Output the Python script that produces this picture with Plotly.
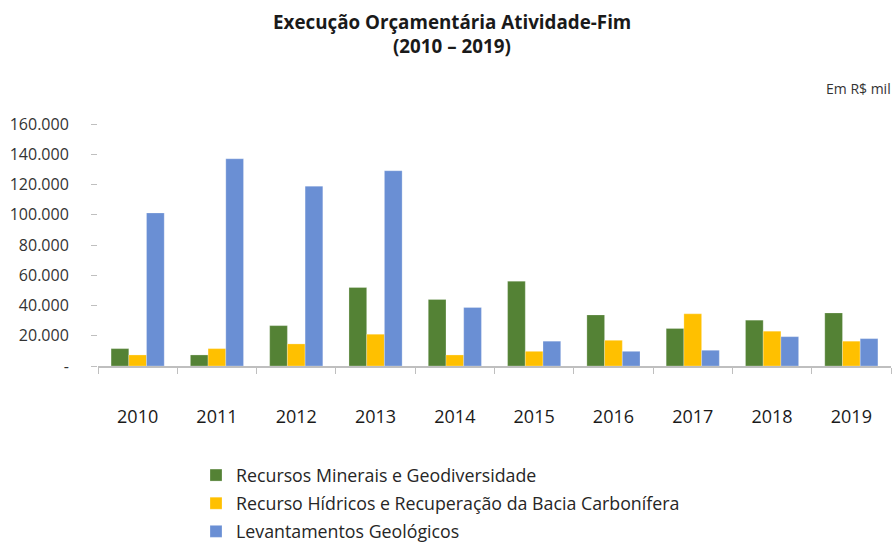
import plotly.graph_objects as go

years = ["2010", "2011", "2012", "2013", "2014", "2015", "2016", "2017", "2018", "2019"]
recursos_minerais = [11500, 7300, 26700, 51900, 44000, 56100, 33800, 24800, 30300, 35100]
recursos_hidricos = [7300, 11500, 14600, 21000, 7300, 9700, 17000, 34500, 23000, 16400]
levantamentos = [101200, 137000, 118900, 129100, 38700, 16400, 9700, 10400, 19400, 18100]

series_names = [
    "Recursos Minerais e Geodiversidade",
    "Recurso Hídricos e Recuperação da Bacia Carbonífera",
    "Levantamentos Geológicos",
]
colors = ["#548235", "#FFC000", "#6A8FD4"]

y_tickvals = [0, 20000, 40000, 60000, 80000, 100000, 120000, 140000, 160000]
y_ticktext = ["-", "20.000", "40.000", "60.000", "80.000", "100.000", "120.000", "140.000", "160.000"]

title_lines = ["Execução Orçamentária Atividade-Fim", "(2010 – 2019)"]
unit_note = "Em R$ mil"

FONT = "Open Sans"
W, H = 895, 543
ML, MR, MT, MB = 98, 4, 124, 177
PH = H - MT - MB
PW = W - ML - MR

def py(pix):
    return (H - MB - pix) / PH

def px(pix):
    return (pix - ML) / PW

fig = go.Figure()
for i, (name, vals, col) in enumerate(zip(series_names, [recursos_minerais, recursos_hidricos, levantamentos], colors)):
    fig.add_trace(go.Bar(
        x=years, y=vals, name=name, legendgroup=f"g{i}",
        marker=dict(color=col, line=dict(color="rgba(255,255,255,0.5)", width=0.5)),
    ))

annotations = [
    dict(text=f"<b>{title_lines[0]}</b>", xref="paper", yref="paper",
         x=px(452), xanchor="center", y=py(22), yanchor="middle",
         showarrow=False, font=dict(size=18.8, color="#1a1a1a")),
    dict(text=f"<b>{title_lines[1]}</b>", xref="paper", yref="paper",
         x=px(452), xanchor="center", y=py(46), yanchor="middle",
         showarrow=False, font=dict(size=18.8, color="#1a1a1a")),
    dict(text=unit_note, xref="paper", yref="paper", x=px(893), xanchor="right",
         y=py(88), yanchor="middle", showarrow=False, font=dict(size=14, color="#333333")),
]

fig.update_layout(
    width=W, height=H,
    margin=dict(l=ML, r=MR, t=MT, b=MB, autoexpand=False),
    paper_bgcolor="white", plot_bgcolor="white",
    font=dict(family=FONT, color="#262626"),
    barmode="group", bargap=0.33, bargroupgap=0,
    xaxis=dict(
        type="category", showgrid=False, automargin=False,
        showline=True, linecolor="#BFBFBF", linewidth=1.5,
        ticks="outside", tickson="boundaries", ticklen=6, tickcolor="#BFBFBF",
        tickfont=dict(size=18, color="#1a1a1a"),
        ticklabelstandoff=34,
    ),
    yaxis=dict(
        range=[0, 160000], showgrid=False, zeroline=False, showline=False, automargin=False,
        tickvals=y_tickvals, ticktext=y_ticktext,
        ticks="outside", ticklen=6, tickcolor="#BFBFBF",
        tickfont=dict(size=16, color="#333333"),
        ticklabelstandoff=19,
    ),
    legend=dict(
        orientation="v", x=px(196), xanchor="left", y=py(457), yanchor="top",
        font=dict(size=17.8, color="#262626"),
        tracegroupgap=2, itemwidth=30,
    ),
    showlegend=True,
    annotations=annotations,
)

fig.write_html(
    "out.html",
    config={"displayModeBar": False},
    post_script="document.body.style.margin='0';document.body.style.overflow='hidden';",
)
